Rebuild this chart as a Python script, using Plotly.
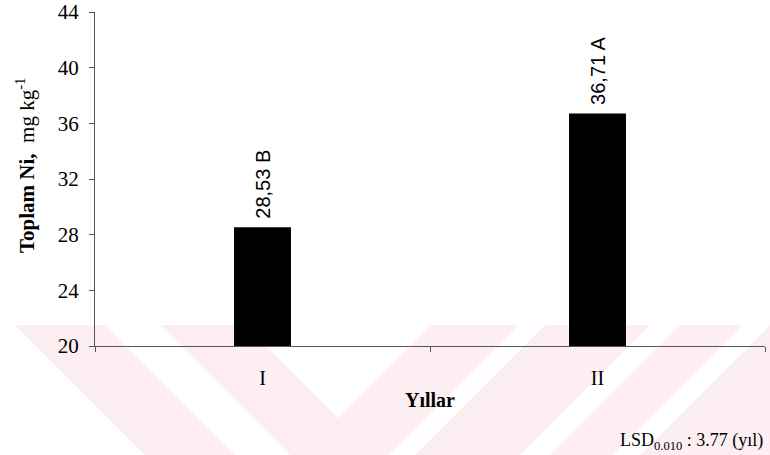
import plotly.graph_objects as go

# Yıllara göre toplam Ni (mg kg-1)
years = ["I", "II"]
total_ni = [28.53, 36.71]
groups = ["B", "A"]
y_ticks = [20, 24, 28, 32, 36, 40, 44]

labels = [" " + f"{v:.2f}".replace(".", ",") + f" {g}" for v, g in zip(total_ni, groups)]

W, H = 770, 455
L, R, T, B = 95, 5, 12, 109
pw, ph = W - L - R, H - T - B


def px_to_paper(x, y):
    return (x - L) / pw, (H - B - y) / ph


def poly_path(points):
    pts = [px_to_paper(x, y) for x, y in points]
    return "M " + " L ".join(f"{a:.4f},{b:.4f}" for a, b in pts) + " Z"


# pale background chevrons in the lower part of the page
wm_color = "rgb(253,238,241)"
y0, y1 = 325, 480
d = y1 - y0
wm_polys = [
    [(15, y0), (105, y0), (105 + d, y1), (15 + d, y1)],
    [(160, y0), (245, y0), (338, 418), (431, y0), (519, y0), (339.5, 504.5)],
    [(545, y0), (650, y0), (650 - d, y1), (545 - d, y1)],
    [(680, y0), (743, y0), (743 - d, y1), (680 - d, y1)],
    [(770, y0), (900, y0), (900 - d, y1), (770 - d, y1)],
]
shapes = [
    dict(type="path", path=poly_path(p), xref="paper", yref="paper",
         fillcolor=wm_color, opacity=1, line=dict(width=0), layer="below")
    for p in wm_polys
]

serif = "Liberation Serif"
sans = "Liberation Sans"

fig = go.Figure(
    go.Bar(
        x=years,
        y=total_ni,
        base=0,
        width=0.17,
        marker=dict(color="black", line=dict(width=0)),
        text=labels,
        textposition="outside",
        textangle=-90,
        constraintext="none",
        textfont=dict(family=sans, size=20, color="black"),
        cliponaxis=False,
    )
)

fig.update_layout(
    width=W,
    height=H,
    margin=dict(l=L, r=R, t=T, b=B, autoexpand=False),
    paper_bgcolor="white",
    plot_bgcolor="rgba(0,0,0,0)",
    showlegend=False,
    shapes=shapes,
    font=dict(family=serif, color="black"),
    xaxis=dict(
        type="category",
        automargin=False,
        tickson="boundaries",
        ticks="outside",
        ticklen=5,
        tickcolor="#555",
        showline=True,
        linecolor="#555",
        linewidth=1,
        showgrid=False,
        zeroline=False,
        tickfont=dict(family=serif, size=20, color="black"),
        ticklabelstandoff=14,
        title=dict(text="<b>Yıllar</b>", font=dict(family=serif, size=20),
                   standoff=4),
    ),
    yaxis=dict(
        range=[20, 44],
        automargin=False,
        tickvals=y_ticks,
        ticks="outside",
        ticklen=5,
        tickcolor="#555",
        showline=True,
        linecolor="#555",
        linewidth=1,
        showgrid=False,
        zeroline=False,
        tickfont=dict(family=serif, size=21, color="black"),
        ticklabelstandoff=6,
    ),
    annotations=[
        dict(
            text="<b>Toplam Ni,</b>  mg kg<sup>-1</sup>",
            xref="paper", yref="paper",
            x=px_to_paper(25, 0)[0], y=px_to_paper(0, 166)[1],
            xanchor="center", yanchor="middle",
            textangle=-90,
            showarrow=False,
            font=dict(family=serif, size=21, color="black"),
        ),
        dict(
            text="LSD<sub>0.010</sub> : 3.77 (yıl)",
            xref="paper", yref="paper",
            x=1.0, y=px_to_paper(0, 441)[1],
            xanchor="right", yanchor="middle",
            showarrow=False,
            font=dict(family=serif, size=18, color="black"),
        ),
    ],
)

fig.write_html("out.html")
